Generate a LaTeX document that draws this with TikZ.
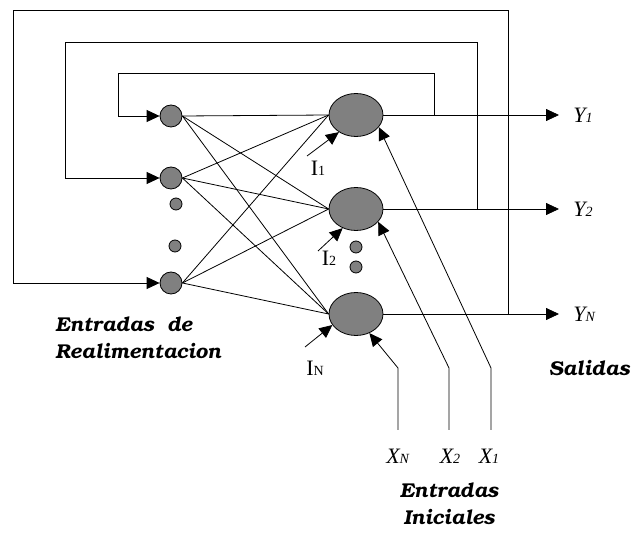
\documentclass[tikz,border=0pt]{standalone}
\usepackage[T1]{fontenc}
\usepackage{fontspec}
\setmainfont{Liberation Serif}
\usetikzlibrary{arrows.meta,shapes.geometric}
\newcommand{\bkfont}{\fontencoding{T1}\fontfamily{pbk}\fontseries{db}\fontshape{it}\fontsize{20}{27}\selectfont}
\newcommand{\lowidx}[1]{{\fontsize{14}{14}\selectfont #1}}

\begin{document}
\begin{tikzpicture}[x=1pt,y=-1pt,line width=0.8pt,
    >={Triangle[length=13pt,width=12pt]},
    cell/.style={circle,draw,fill=gray,minimum size=22pt,inner sep=0},
    dotcell/.style={circle,draw,fill=gray,minimum size=12pt,inner sep=0},
    neuron/.style={ellipse,draw,fill=gray,minimum width=54pt,minimum height=43pt,inner sep=0},
    lbl/.style={font=\fontsize{22}{24}\selectfont,inner sep=0},
    title/.style={font=\bkfont,inner sep=0,align=left}]
  \useasboundingbox (0,0) rectangle (632,534);
  % feedback cells (left column)
  \node[cell] (l1) at (171,116) {};
  \node[cell] (l2) at (171,178) {};
  \node[cell] (l3) at (171,283) {};
  \node[dotcell] (d1) at (176,204) {};
  \node[dotcell] (d2) at (175,246) {};
  % neurons (right column)
  \node[neuron] (b1) at (356,115) {};
  \node[neuron] (b2) at (356,209) {};
  \node[neuron] (b3) at (356,314) {};
  \node[dotcell] (d3) at (356,247) {};
  \node[dotcell] (d4) at (356,267) {};
  % full connections
  \foreach \a in {l1,l2,l3}
    \foreach \b in {b1,b2,b3}
      \draw (\a.east) -- (\b.west);
  % outputs
  \coordinate (o1) at (559,115);
  \coordinate (o2) at (559,209);
  \coordinate (o3) at (559,314);
  \draw[->] (b1.east) -- (o1);
  \draw[->] (b2.east) -- (o2);
  \draw[->] (b3.east) -- (o3);
  \node[lbl,anchor=west] (y1) at (573,115) {\textit{Y\lowidx{1}}};
  \node[lbl,anchor=west] (y2) at (573,209) {\textit{Y\lowidx{2}}};
  \node[lbl,anchor=west] (yn) at (573,314) {\textit{Y\lowidx{N}}};
  % feedback loops
  \coordinate (j1) at (434,115);
  \coordinate (j2) at (477,209);
  \coordinate (j3) at (508,314);
  \coordinate (c1) at (118,73);
  \coordinate (c2) at (65,42);
  \coordinate (c3) at (13,10);
  \draw[->] (j1) |- (c1) |- (l1.west);
  \draw[->] (j2) |- (c2) |- (l2.west);
  \draw[->] (j3) |- (c3) |- (l3.west);
  % bias inputs
  \coordinate (i1) at (307,156);
  \coordinate (i2) at (318,251);
  \coordinate (i3) at (305,347);
  \draw[->] (i1) -- (b1.225);
  \draw[->] (i2) -- (b2.235);
  \draw[->] (i3) -- (b3.205);
  \node[lbl] (li1) at (318,168) {I\lowidx{1}};
  \node[lbl] (li2) at (329,258) {I\lowidx{2}};
  \node[lbl] (lin) at (315,368) {I\lowidx{N}};
  % initial inputs
  \coordinate (xn) at (398,430);
  \coordinate (x2) at (449,430);
  \coordinate (x1) at (491,430);
  \coordinate (kn) at (398,368);
  \coordinate (k2) at (449,368);
  \coordinate (k1) at (491,368);
  \draw[->] (xn) -- (kn) -- (b3.305);
  \draw[->] (x2) -- (k2) -- (b2.330);
  \draw[->] (x1) -- (k1) -- (b1.332);
  \node[lbl] (lxn) at (398,456) {\textit{X\lowidx{N}}};
  \node[lbl] (lx2) at (450,456) {\textit{X\lowidx{2}}};
  \node[lbl] (lx1) at (489,456) {\textit{X\lowidx{1}}};
  % titles
  \node[title,anchor=west] (tfb) at (55,338) {Entradas \ de\\Realimentacion};
  \node[title,anchor=east] (tsal) at (630,368) {Salidas};
  \node[title,align=center] (tini) at (449,504) {Entradas\\Iniciales};
\end{tikzpicture}
\end{document}
